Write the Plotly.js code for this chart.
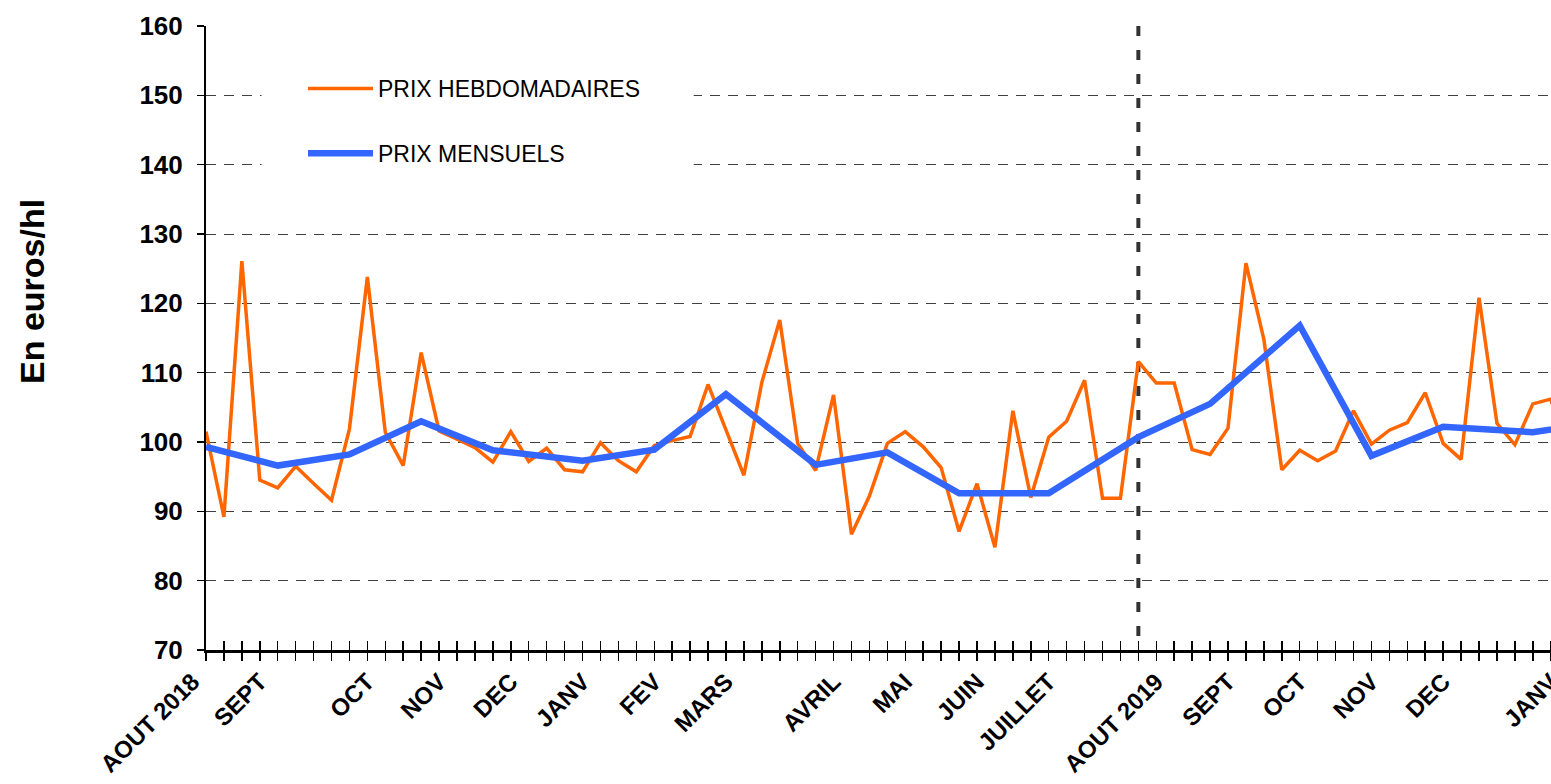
<!DOCTYPE html>
<html><head><meta charset="utf-8">
<script src="https://cdn.plot.ly/plotly-3.0.1.min.js"></script>
<style>
html,body{margin:0;padding:0;overflow:hidden;background:#fff;width:1551px;height:784px}
#chart{width:1600px;height:784px}
</style>
</head><body><div id="chart"></div>
<script>
// ---- data ----
const weeklyPrices = [
  101.5, 89.2, 126.1, 94.5, 93.4, 96.5, 94.0, 91.6, 101.9, 123.8,
  101.4, 96.6, 112.9, 101.6, 100.4, 99.2, 97.1, 101.5, 97.2, 99.1,
  96.0, 95.7, 99.9, 97.3, 95.7, 99.5, 100.2, 100.8, 108.3, 101.9,
  95.2, 108.6, 117.6, 99.8, 95.9, 106.8, 86.7, 92.2, 99.8, 101.5,
  99.3, 96.3, 87.1, 94.0, 84.8, 104.5, 92.0, 100.7, 103.0, 108.9,
  91.9, 91.9, 111.6, 108.5, 108.5, 98.9, 98.2, 102.0, 125.8, 114.8,
  96.0, 98.8, 97.3, 98.7, 104.5, 99.7, 101.7, 102.8, 107.1, 99.8,
  97.5, 120.8, 102.7, 99.6, 105.5, 106.2, 98.0
];
const monthlyWeekIndex = [0, 4, 8, 12, 16, 21, 25, 29, 34, 38, 42, 47, 52, 56, 61, 65, 69, 74, 78];
const monthlyPrices = [99.3, 96.6, 98.2, 103.0, 98.8, 97.3, 98.9, 106.9, 96.7, 98.5, 92.6, 92.6, 100.7, 105.5, 116.8, 98.0, 102.2, 101.4, 103.0];
const monthLabels = ['AOUT 2018', 'SEPT', 'OCT', 'NOV', 'DEC', 'JANV', 'FEV', 'MARS', 'AVRIL', 'MAI', 'JUIN', 'JUILLET', 'AOUT 2019', 'SEPT', 'OCT', 'NOV', 'DEC', 'JANV'];
const monthLabelWeek = [-0.75, 3, 9, 13, 17, 21, 25, 29, 35, 39, 43, 47, 53, 57, 61, 65, 69, 75];
const yTickValues = [70, 80, 90, 100, 110, 120, 130, 140, 150, 160];
const yearBreakWeek = 52;
const seriesNames = ['PRIX HEBDOMADAIRES', 'PRIX MENSUELS'];

// ---- geometry ----
const W = 1600, H = 784, ML = 150, MR = 0, MT = 26, MB = 134;
const plotW = W - ML - MR;
const axisStartPx = 206;
const weekPx = 17.93;
const xDomStart = (axisStartPx - ML) / plotW;
const xMax = (W - MR - axisStartPx) / weekPx;
const x2Min = -(axisStartPx - ML) / weekPx;
const weekTicks = [];
for (let i = 0; i <= Math.floor(xMax); i++) weekTicks.push(i);
const weekIndex = weeklyPrices.map((_, i) => i);

const FONT = 'Liberation Sans, Arial, sans-serif';

const traces = [
  {x: weekIndex, y: weeklyPrices, type: 'scatter', mode: 'lines', name: seriesNames[0],
   legendgroup: 'a', line: {color: '#FF6600', width: 3.5}, hoverinfo: 'skip'},
  {x: monthlyWeekIndex, y: monthlyPrices, type: 'scatter', mode: 'lines', name: seriesNames[1],
   legendgroup: 'b', line: {color: '#3366FF', width: 6.5}, hoverinfo: 'skip'},
  {x: [], y: [], xaxis: 'x2', yaxis: 'y2', type: 'scatter', showlegend: false, hoverinfo: 'skip'},
  {x: [], y: [], xaxis: 'x3', yaxis: 'y', type: 'scatter', showlegend: false, hoverinfo: 'skip'}
];

const layout = {
  width: W, height: H,
  margin: {l: ML, r: MR, t: MT, b: MB, pad: 0},
  paper_bgcolor: '#ffffff', plot_bgcolor: 'rgba(0,0,0,0)',
  font: {family: FONT, color: '#000'},
  showlegend: true,
  legend: {
    x: (303 - ML) / plotW, xanchor: 'left', y: (650 - 67) / (H - MT - MB), yanchor: 'top',
    bgcolor: 'rgba(0,0,0,0)', borderwidth: 0, itemwidth: 65,
    traceorder: 'grouped', tracegroupgap: 32,
    font: {family: FONT, size: 23, color: '#000'}
  },
  xaxis: {
    domain: [xDomStart, 1], range: [0, xMax], anchor: 'y',
    tickmode: 'array', tickvals: weekTicks, showticklabels: false,
    ticks: 'outside', ticklen: 8, tickwidth: 1.5, tickcolor: '#000',
    showline: true, linecolor: '#000', linewidth: 2.5,
    showgrid: false, zeroline: false, fixedrange: true
  },
  xaxis3: {
    overlaying: 'x', anchor: 'y', domain: [xDomStart, 1], range: [0, xMax],
    tickmode: 'array', tickvals: weekTicks, showticklabels: false,
    ticks: 'inside', ticklen: 9, tickwidth: 1.5, tickcolor: '#000',
    showline: false, showgrid: false, zeroline: false, fixedrange: true
  },
  xaxis2: {
    anchor: 'y2', domain: [0, 1], range: [x2Min, xMax],
    tickmode: 'array', tickvals: monthLabelWeek, ticktext: monthLabels,
    tickangle: -45, ticks: '', showline: false, showgrid: false, zeroline: false,
    ticklabelstandoff: 12,
    tickfont: {family: FONT, size: 24, color: '#000', weight: 'bold'}, fixedrange: true
  },
  yaxis2: {anchor: 'x2', domain: [0, 1], range: [70, 160], visible: false, showgrid: false, fixedrange: true},
  yaxis: {
    domain: [0, 1], range: [70, 160], anchor: 'x',
    tickmode: 'array', tickvals: yTickValues,
    ticks: 'outside', ticklen: 7, tickwidth: 1.5, tickcolor: '#000',
    ticklabelstandoff: 9,
    showline: true, linecolor: '#000', linewidth: 2,
    showgrid: true, gridcolor: '#404040', gridwidth: 1, griddash: '10px,8px',
    zeroline: false, fixedrange: true,
    tickfont: {family: FONT, size: 26, color: '#000', weight: 'bold'}
  },
  shapes: [
    {type: 'rect', xref: 'x', yref: 'y', x0: 3.1, x1: 27.2, y0: 137.5, y1: 155,
     fillcolor: '#ffffff', line: {width: 0}, layer: 'between'},
    {type: 'line', xref: 'x', yref: 'y', x0: yearBreakWeek, x1: yearBreakWeek, y0: 160, y1: 70,
     line: {color: '#333333', width: 4, dash: '10px,14px'}, layer: 'below'}
  ],
  annotations: [
    {text: 'En euros/hl', xref: 'paper', yref: 'paper', x: (32 - ML) / plotW, y: (650 - 292) / (H - MT - MB),
     xanchor: 'center', yanchor: 'middle', textangle: -90, showarrow: false,
     font: {family: FONT, size: 34, color: '#000', weight: 'bold'}}
  ]
};

Plotly.newPlot('chart', traces, layout, {displayModeBar: false, staticPlot: true});
</script>
</body></html>
